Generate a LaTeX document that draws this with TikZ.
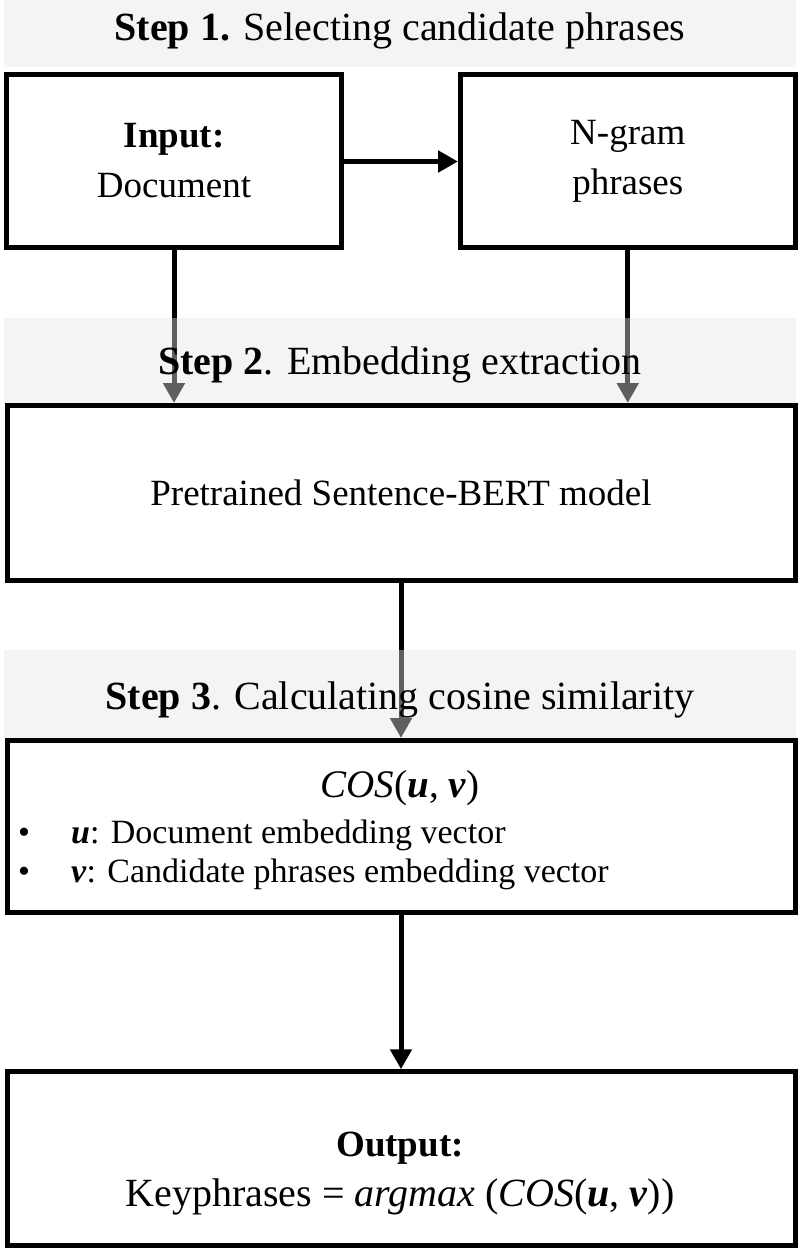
\documentclass[tikz,border=0pt]{standalone}
\usepackage{fontspec}
\setmainfont{Liberation Serif}
\usetikzlibrary{arrows.meta}
\definecolor{bandc}{gray}{0.894}
\tikzset{
  box/.style={draw=black, line width=5pt, inner sep=0pt},
  arr/.style={line width=5pt, -{Triangle[length=20pt,width=21pt]}},
  band/.style={fill=bandc, fill opacity=0.42, draw=none},
  head/.style={font=\fontsize{40}{48}\selectfont, inner sep=0pt},
  txt/.style={font=\fontsize{37}{50}\selectfont, align=center, inner sep=0pt},
  btxt/.style={font=\fontsize{34}{40}\selectfont, inner sep=0pt, anchor=base west},
}
\newcommand{\bi}[1]{\textbf{\textit{#1}}}
\begin{document}
\begin{tikzpicture}[x=1pt,y=-1pt]
\useasboundingbox (0,0) rectangle (800,1254);
% boxes
\node[box, minimum width=334.5pt, minimum height=173pt, txt] (in) at (174,161) {\textbf{Input:}\\Document};
\node[box, minimum width=334.5pt, minimum height=173pt, txt] (ng) at (627.75,161) {N-gram\\phrases};
\node[box, minimum width=788pt, minimum height=175pt, txt] (sb) at (401,493) {Pretrained Sentence-BERT model};
\node[box, minimum width=788pt, minimum height=172pt] (cs) at (401,826.5) {};
\node[box, minimum width=788pt, minimum height=173.5pt] (out) at (401,1158.5) {};
% arrows
\draw[arr] (in.east |- 0,161.5) -- (ng.west |- 0,161.5);
\draw[arr] (in.south) -- (in.south |- sb.north);
\draw[arr] (ng.south) -- (ng.south |- sb.north);
\draw[arr] (sb.south) -- (cs.north);
\draw[arr] (cs.south) -- (out.north);
% bands
\fill[band] (4,0) rectangle (796,67);
\fill[band] (4,318) rectangle (796,403);
\fill[band] (4,650) rectangle (796,738);
% headers
\node[head] (h1) at (400,31) {\textbf{Step 1.} Selecting candidate phrases};
\node[head] (h2) at (400,365) {\textbf{Step 2}. Embedding extraction};
\node[head] (h3) at (400,700) {\textbf{Step 3}. Calculating cosine similarity};
% box 3 contents
\node[txt, font=\fontsize{39}{50}\selectfont] (cosT) at (400,788) {\textit{COS}(\bi{u}, \bi{v})};
\node[btxt] (b1) at (18,843) {\makebox[53pt][l]{•}\bi{u}: Document embedding vector};
\node[btxt] (b2) at (18,882) {\makebox[53pt][l]{•}\bi{v}: Candidate phrases embedding vector};
% box 4 contents
\node[txt] (outT) at (400,1174) {\textbf{Output:}\\{\fontsize{40}{50}\selectfont Keyphrases = \textit{argmax} (\textit{COS}(\bi{u}, \bi{v}))}};
\end{tikzpicture}
\end{document}
